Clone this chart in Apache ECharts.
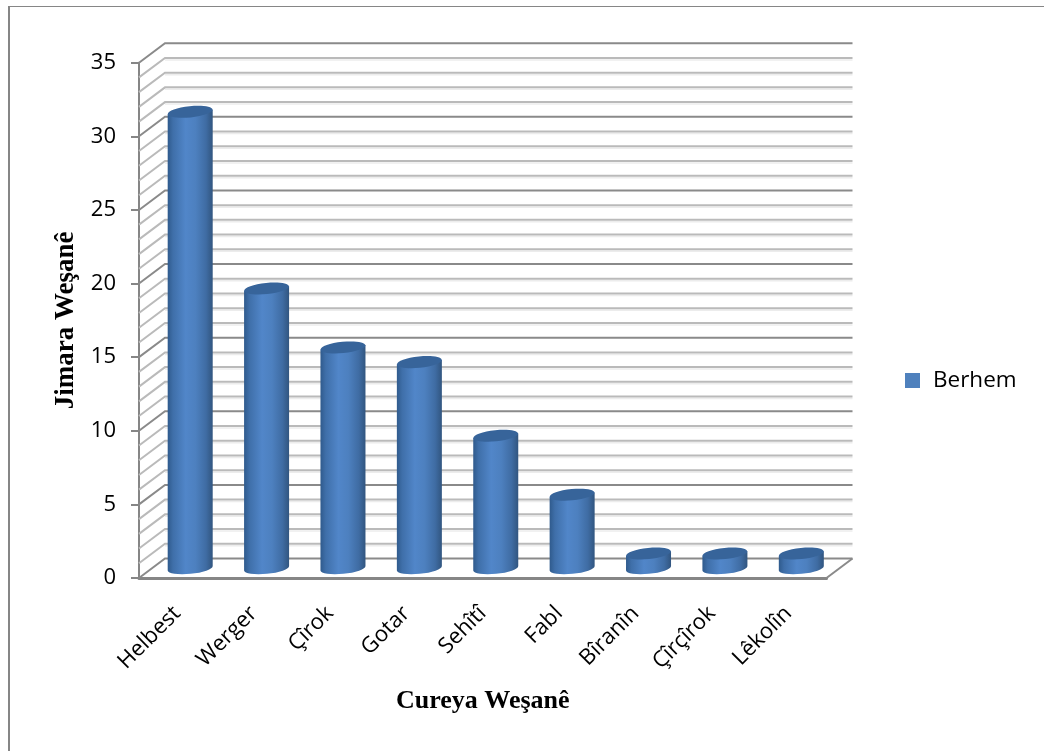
<!DOCTYPE html>
<html><head><meta charset="utf-8">
<style>html,body{margin:0;padding:0;background:#fff}#c{width:1044px;height:751px}
#f{position:absolute;left:8px;top:6px;width:1034px;height:760px;border-top:1px solid #868686;border-left:2px solid #868686;border-right:1px solid #c8c8c8;pointer-events:none}
body{overflow:hidden}</style>
<script src="https://cdn.jsdelivr.net/npm/echarts@6/dist/echarts.min.js"></script></head>
<body><div id="c"></div><div id="f"></div>
<script>
const categories = ['Helbest','Werger','Çîrok','Gotar','Sehîtî','Fabl','Bîranîn','Çîrçîrok','Lêkolîn'];
const values = [31,19,15,14,9,5,1,1,1];
const seriesName = 'Berhem';
const wallLevels = [0,1,2,3,4,5,6,7,8,9,10,11,12,13,14,15,16,17,18,19,20,21,22,23,24,25,26,27,28,29,30,31,32,33,34,35];
const DX = 26, DY = -19.5;

function wallItem(params, api) {
  const v = api.value(0), cs = params.coordSys;
  const y = api.coord([0, v])[1];
  const major = v % 5 === 0;
  const color = major ? '#8a8a8a' : '#bababa';
  const kids = [];
  const back = [cs.x + DX, y + DY], backEnd = [cs.x + cs.width + DX, y + DY];
  if (!major) kids.push({type:'line',shape:{x1:back[0],y1:back[1]+2,x2:backEnd[0],y2:backEnd[1]+2},style:{stroke:'#ececec',lineWidth:1.5},silent:true});
  kids.push({type:'polyline',shape:{points:[[cs.x,y],back,backEnd]},style:{fill:null,stroke:color,lineWidth:2}});
  if (v === 0) kids.push({type:'line',shape:{x1:cs.x+cs.width,y1:y,x2:backEnd[0],y2:backEnd[1]},style:{stroke:color,lineWidth:2}});
  return {type:'group',children:kids};
}
function barItem(params, api) {
  const idx = api.value(0), v = api.value(1);
  const p1 = api.coord([idx, v]), p0 = api.coord([idx, 0]);
  const cx = p1[0] + DX/2, top = p1[1] + DY/2, bot = p0[1] + DY/2;
  const rx = 22.5, ry = 5.6, rot = 0.1;
  const edge = 2.2;
  const side = new echarts.graphic.LinearGradient(0,0,1,0,[
    {offset:0,color:'#2f5a8c'},{offset:.12,color:'#3f6fa9'},{offset:.4,color:'#5186c9'},
    {offset:.62,color:'#4d80bf'},{offset:.85,color:'#3f6ca3'},{offset:1,color:'#31557f'}]);
  const l = cx-rx, r = cx+rx;
  return {type:'group',children:[
    {type:'path',
     shape:{pathData:`M${l} ${top+edge} L${r} ${top-edge} L${r} ${bot-edge} A${rx} ${ry} ${-rot*57.3} 0 1 ${l} ${bot+edge} Z`},
     style:{fill:side}},
    {type:'ellipse',shape:{cx:0,cy:0,rx:rx,ry:ry},x:cx,y:top,rotation:rot,
     style:{fill:'#37649a'}}
  ]};
}
const chart = echarts.init(document.getElementById('c'));
chart.setOption({
  animation:false,
  textStyle:{fontFamily:'Open Sans'},
  legend:{show:true,left:900,top:364,orient:'vertical',itemWidth:15,itemHeight:15,itemGap:0,
    data:[{name:seriesName,icon:'rect'}],
    textStyle:{fontFamily:'Open Sans',fontSize:22.5,color:'#000',padding:[0,0,0,8]}},
  grid:{left:139,top:62.7,width:687.5,height:515.3,containLabel:false},
  xAxis:{type:'category',data:categories,
    axisLine:{show:true,lineStyle:{color:'#868686',width:3}},
    axisTick:{show:false},
    axisLabel:{rotate:45,interval:0,margin:32,fontFamily:'Open Sans',fontSize:22,color:'#000'},
    name:'Cureya Weşanê',nameLocation:'middle',nameGap:110,
    nameTextStyle:{fontFamily:'Liberation Serif',fontWeight:'bold',fontSize:26,color:'#000'}},
  yAxis:{type:'value',min:0,max:35,interval:5,
    axisLine:{show:true,lineStyle:{color:'#868686',width:2}},
    axisTick:{show:true,length:8,lineStyle:{color:'#868686',width:2}},
    axisLabel:{margin:23,fontFamily:'Open Sans',fontSize:22,color:'#000',padding:[4,0,0,0]},
    splitLine:{show:false},
    name:'Jimara Weşanê',nameLocation:'middle',nameGap:59,
    nameTextStyle:{fontFamily:'Liberation Serif',fontWeight:'bold',fontSize:27,color:'#000'}},
  series:[
    {type:'custom',name:'wall',silent:true,z:1,coordinateSystem:'cartesian2d',renderItem:wallItem,
     data:wallLevels.map(v=>[v]),encode:{x:-1,y:0},clip:false},
    {type:'custom',name:seriesName,z:3,coordinateSystem:'cartesian2d',renderItem:barItem,
     itemStyle:{color:'#4f81bd'},
     data:values.map((v,i)=>[i,v]),encode:{x:0,y:1},clip:false}
  ]
});
</script></body></html>
